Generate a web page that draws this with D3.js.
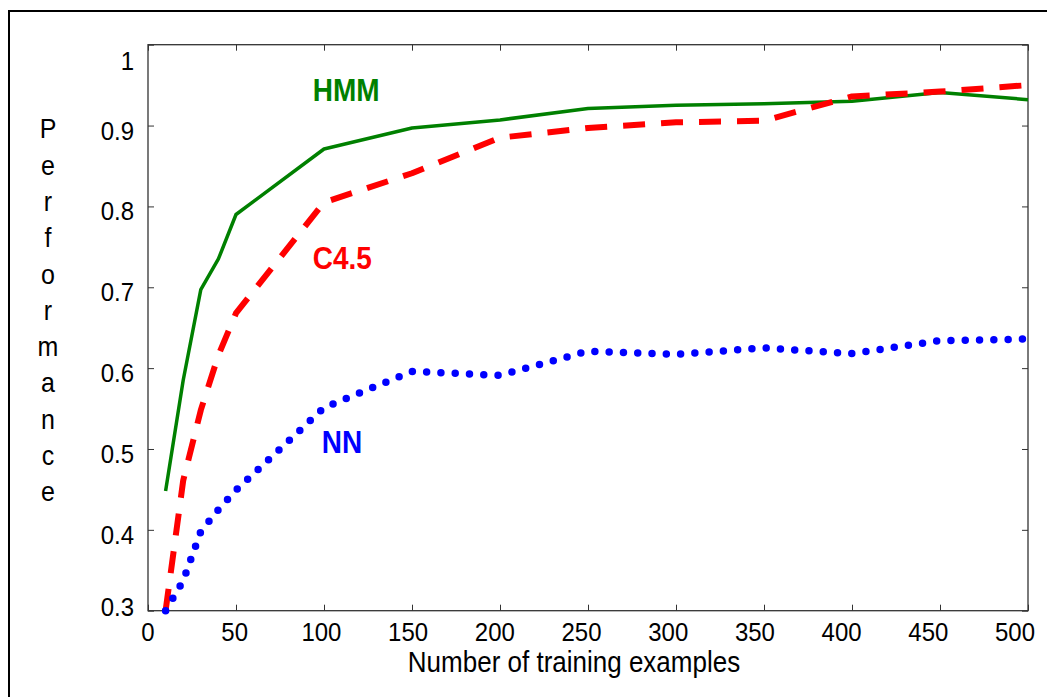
<!DOCTYPE html>
<html><head><meta charset="utf-8">
<script src="https://cdn.jsdelivr.net/npm/d3@7"></script>
<style>body{margin:0;background:#fff;overflow:hidden} svg{display:block;font-family:Arial,"Liberation Sans",sans-serif}</style>
</head><body><svg id="c" width="1047" height="697"></svg>
<script>
// ---- data ----
const xValues = [10, 20, 30, 40, 50, 100, 150, 200, 250, 300, 350, 400, 450, 500];
const hmm = [0.448, 0.585, 0.697, 0.735, 0.790, 0.871, 0.897, 0.907, 0.921, 0.925, 0.927, 0.930, 0.941, 0.932];
const c45 = [0.300, 0.461, 0.548, 0.616, 0.668, 0.805, 0.841, 0.885, 0.897, 0.904, 0.906, 0.936, 0.942, 0.950];
const nn  = [0.300, 0.337, 0.398, 0.425, 0.449, 0.551, 0.596, 0.591, 0.621, 0.617, 0.625, 0.618, 0.634, 0.636];
const xTicks = [0, 50, 100, 150, 200, 250, 300, 350, 400, 450, 500];
const yTicks = [0.3, 0.4, 0.5, 0.6, 0.7, 0.8, 0.9, 1.0];
const yTickLabels = ["0.3", "0.4", "0.5", "0.6", "0.7", "0.8", "0.9", "1"];
const seriesNames = ["HMM", "C4.5", "NN"];
const seriesColors = ["#008000", "#ff0000", "#0000ff"];
const labelAnchors = [[93.6, 0.930], [93.6, 0.7226], [98.7, 0.4947]]; // in data units
const xTitle = "Number of training examples";
const yTitle = "Performance";

// ---- layout ----
const svg = d3.select("#c");
const L = 148, R = 1028, T = 44.7, B = 610.7;
const x = d3.scaleLinear().domain([0, 500]).range([L, R]);
const xLab = d3.scaleLinear().domain([0, 500]).range([L, 1015]);
const y = d3.scaleLinear().domain([0.3, 1.0]).range([B, T]);
const stretch = (px, py) => `translate(${px},${py}) scale(1,1.1)`;

// outer border
svg.append("rect").attr("x", 9).attr("y", 11).attr("width", 1100).attr("height", 800)
  .attr("fill", "none").attr("stroke", "#000").attr("stroke-width", 2);

// plot frame
svg.append("rect").attr("x", L).attr("y", T).attr("width", R - L).attr("height", B - T)
  .attr("fill", "none").attr("stroke", "#333").attr("stroke-width", 1.3);

// axes (ticks inward on all sides)
const tickLen = 6;
const ax = (g) => g.selectAll(".domain").remove();
svg.append("g").attr("transform", `translate(0,${B})`)
  .call(d3.axisTop(x).tickValues(xTicks).tickSize(tickLen).tickFormat("")).call(ax)
  .selectAll("line").attr("stroke", "#333");
svg.append("g").attr("transform", `translate(0,${T})`)
  .call(d3.axisBottom(x).tickValues(xTicks).tickSize(tickLen).tickFormat("")).call(ax)
  .selectAll("line").attr("stroke", "#333");
svg.append("g").attr("transform", `translate(${L},0)`)
  .call(d3.axisRight(y).tickValues(yTicks).tickSize(tickLen).tickFormat("")).call(ax)
  .selectAll("line").attr("stroke", "#333");
svg.append("g").attr("transform", `translate(${R},0)`)
  .call(d3.axisLeft(y).tickValues(yTicks).tickSize(tickLen).tickFormat("")).call(ax)
  .selectAll("line").attr("stroke", "#333");

// tick labels
svg.append("g").selectAll("text").data(xTicks).join("text")
  .attr("transform", d => stretch(xLab(d), 640.5)).attr("text-anchor", "middle")
  .attr("font-size", 24).attr("fill", "#000").text(d => d);
svg.append("g").selectAll("text").data(yTicks).join("text")
  .attr("transform", d => stretch(134, Math.min(Math.max(y(d) + 14, 70), B + 5)))
  .attr("text-anchor", "end")
  .attr("font-size", 24).attr("fill", "#000").text((d, i) => yTickLabels[i]);

// axis titles
svg.append("text").attr("transform", stretch(574, 671.5)).attr("text-anchor", "middle")
  .attr("font-size", 26).attr("fill", "#000").text(xTitle);
svg.append("g").selectAll("text").data(yTitle.split("")).join("text")
  .attr("transform", (d, i) => stretch(48, 138.3 + i * 36.3)).attr("text-anchor", "middle")
  .attr("font-size", 25).attr("fill", "#000").text(d => d);

// series
const line = d3.line().x(d => x(d[0])).y(d => y(d[1]));
const allSeries = [hmm, c45, nn];
const styles = [
  {w: 3.5, dash: null, cap: "butt"},
  {w: 6, dash: "22,16", cap: "butt"},
  {w: 7.5, dash: "0,14.3", cap: "round"}
];
allSeries.forEach((s, i) => {
  svg.append("path").datum(xValues.map((xv, j) => [xv, s[j]]))
    .attr("d", line).attr("fill", "none")
    .attr("stroke", seriesColors[i]).attr("stroke-width", styles[i].w)
    .attr("stroke-linecap", styles[i].cap).attr("stroke-linejoin", "round")
    .attr("stroke-dasharray", styles[i].dash);
});

// series labels
svg.append("g").selectAll("text").data(seriesNames).join("text")
  .attr("transform", (d, i) => stretch(x(labelAnchors[i][0]), y(labelAnchors[i][1])))
  .attr("font-size", 28).attr("font-weight", "bold")
  .attr("fill", (d, i) => seriesColors[i]).text(d => d);
</script></body></html>
